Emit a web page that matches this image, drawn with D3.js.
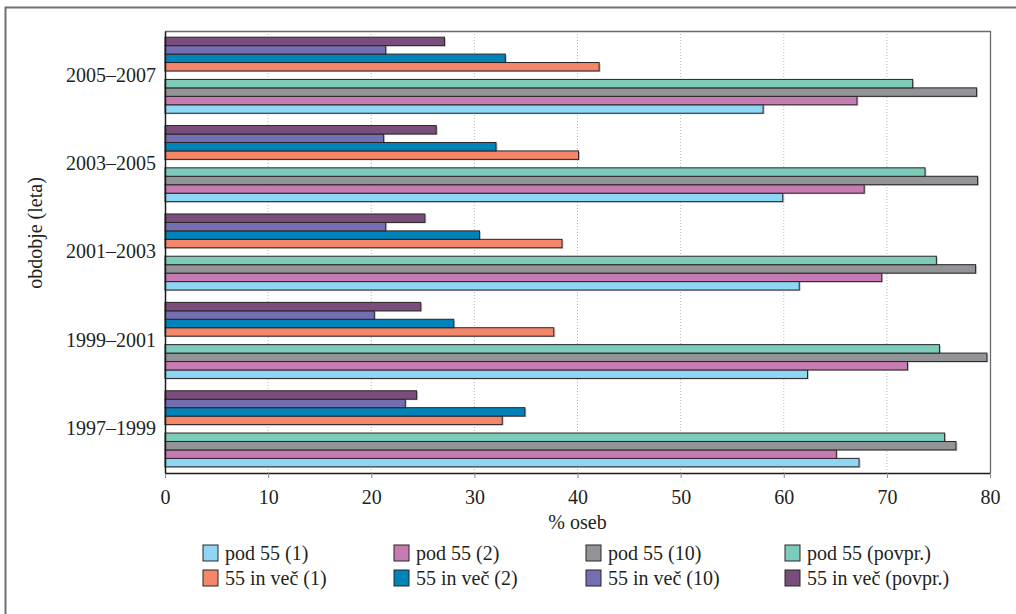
<!DOCTYPE html>
<html><head><meta charset="utf-8">
<script src="https://cdn.jsdelivr.net/npm/d3@7"></script>
<style>
html,body{margin:0;padding:0;background:#fff;}
</style></head>
<body>
<script>
// ---- data ----
const periods = ["1997–1999","1999–2001","2001–2003","2003–2005","2005–2007"];
const pod55_1   = [67.3, 62.3, 61.5, 59.9, 58.0];
const pod55_2   = [65.1, 72.0, 69.5, 67.8, 67.1];
const pod55_10  = [76.7, 79.7, 78.6, 78.8, 78.7];
const pod55_avg = [75.6, 75.1, 74.8, 73.7, 72.5];
const nad55_1   = [32.7, 37.7, 38.5, 40.1, 42.1];
const nad55_2   = [34.9, 28.0, 30.5, 32.1, 33.0];
const nad55_10  = [23.3, 20.3, 21.4, 21.2, 21.4];
const nad55_avg = [24.4, 24.8, 25.2, 26.3, 27.1];
const seriesNames = ["pod 55 (1)","pod 55 (2)","pod 55 (10)","pod 55 (povpr.)",
                     "55 in več (1)","55 in več (2)","55 in več (10)","55 in več (povpr.)"];
const xTicks = [0,10,20,30,40,50,60,70,80];
const xTitle = "% oseb";
const yTitle = "obdobje (leta)";

const seriesValues = [pod55_1,pod55_2,pod55_10,pod55_avg,nad55_1,nad55_2,nad55_10,nad55_avg];
const colors = ["#8dd7f5","#c67bb3","#929497","#7ccbbb","#f4876a","#0083b8","#746fb2","#7a4e7c"];

const FONT = '"Liberation Serif", "Times New Roman", serif';
const FS = 20;
const TXT = "#231f20";

// ---- layout ----
const W = 1016, H = 614;
const m = {left:165, right:26, top:31, bottom:141};
const svg = d3.select("body").append("svg").attr("width",W).attr("height",H);

// outer frame (left + top)
svg.append("path").attr("d",`M5.5,${H} V7.5 H${W}`).attr("fill","none")
  .attr("stroke","#707070").attr("stroke-width",2);

const x = d3.scaleLinear().domain([0,80]).range([m.left, W-m.right]);
const y = d3.scaleBand().domain(periods.slice().reverse()).range([m.top, H-m.bottom]);
const slotOrder = ["s7","s6","s5","s4","gap","s3","s2","s1","s0"];
const yi = d3.scaleBand().domain(slotOrder).range([0, y.bandwidth()]).paddingOuter(0.73);

// grid lines
svg.append("g").selectAll("line").data(xTicks.slice(1,-1)).join("line")
  .attr("x1",d=>x(d)).attr("x2",d=>x(d)).attr("y1",m.top).attr("y2",H-m.bottom)
  .attr("stroke","#b8b8b8").attr("stroke-width",1).attr("stroke-dasharray","1,2");

// plot frame top/right
svg.append("path").attr("d",`M${m.left},${m.top+0.5} H${x(80)+0.5} V${H-m.bottom}`)
  .attr("fill","none").attr("stroke","#6a6a6a").attr("stroke-width",1.3);

// bars
const bars = [];
periods.forEach((p,i)=>{
  seriesValues.forEach((arr,s)=>{ bars.push({p, s, v:arr[i]}); });
});
const g = svg.append("g");
g.selectAll("rect.sh").data(bars).join("rect").attr("class","sh")
  .attr("x",x(0)).attr("y",d=>y(d.p)+yi("s"+d.s)+1)
  .attr("width",d=>x(d.v)-x(0)+1.5).attr("height",yi.bandwidth())
  .attr("fill","#a0a0a0").attr("opacity",0.6);
g.selectAll("rect.bar").data(bars).join("rect").attr("class","bar")
  .attr("x",x(0)).attr("y",d=>y(d.p)+yi("s"+d.s))
  .attr("width",d=>x(d.v)-x(0)).attr("height",yi.bandwidth())
  .attr("fill",d=>colors[d.s]).attr("stroke","#2a2426").attr("stroke-width",1);

// x axis
const xa = svg.append("g").attr("transform",`translate(0,${H-m.bottom})`)
  .call(d3.axisBottom(x).tickValues(xTicks).tickSize(5).tickPadding(12));
xa.select(".domain").attr("stroke","#1a1a1a").attr("stroke-width",1.5).attr("d",`M${x(0)},0.5H${x(80)}`);
xa.selectAll(".tick line").attr("stroke","#888");
xa.selectAll("text").style("font-family",FONT).style("font-size",FS+"px").attr("fill",TXT);

// y axis
const ya = svg.append("g").attr("transform",`translate(${m.left},0)`)
  .call(d3.axisLeft(y).tickSize(0).tickPadding(9));
ya.select(".domain").attr("stroke","#1a1a1a").attr("stroke-width",1.5);
ya.selectAll("text").style("font-family",FONT).style("font-size",FS+"px").attr("fill",TXT);

// titles
svg.append("text").attr("x",(x(0)+x(80))/2).attr("y",529).attr("text-anchor","middle")
  .style("font-family",FONT).style("font-size",FS+"px").attr("fill",TXT).text(xTitle);
svg.append("text").attr("transform",`translate(42,233) rotate(-90)`).attr("text-anchor","middle")
  .style("font-family",FONT).style("font-size",FS+"px").attr("fill",TXT).text(yTitle);

// legend
const legX = [203, 394, 586, 785];
const legY = [553, 578];
const leg = svg.append("g");
seriesNames.forEach((n,i)=>{
  const col = i%4, row = Math.floor(i/4);
  leg.append("rect").attr("x",legX[col]).attr("y",legY[row]-8).attr("width",15).attr("height",16)
    .attr("fill",colors[i]).attr("stroke","#2a2426").attr("stroke-width",1);
  leg.append("text").attr("x",legX[col]+22).attr("y",legY[row]).attr("dy","0.35em")
    .style("font-family",FONT).style("font-size",FS+"px").attr("fill",TXT).text(n);
});
</script>
</body></html>
